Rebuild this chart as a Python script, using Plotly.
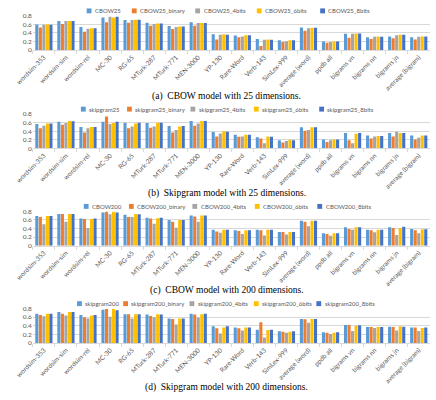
import plotly.graph_objects as go

categories = ["wordsim-353", "wordsim-sim", "wordsim-rel", "MC-30", "RG-65", "MTurk-287",
              "MTurk-771", "MEN-3000", "YP-130", "Rare-Word", "Verb-143", "SimLex-999",
              "average (word)", "ppdb all", "bigrams vn", "bigrams nn", "bigrams jn",
              "average (bigram)"]

# (a) CBOW, 25 dimensions
cbow25 =        [0.60, 0.68, 0.54, 0.76, 0.70, 0.64, 0.56, 0.65, 0.37, 0.34, 0.26, 0.23, 0.53, 0.20, 0.38, 0.30, 0.32, 0.30]
cbow25_binary = [0.53, 0.61, 0.43, 0.65, 0.64, 0.57, 0.49, 0.57, 0.25, 0.30, 0.10, 0.19, 0.45, 0.17, 0.29, 0.26, 0.28, 0.25]
cbow25_4bits =  [0.59, 0.68, 0.50, 0.78, 0.70, 0.61, 0.54, 0.63, 0.36, 0.32, 0.24, 0.21, 0.51, 0.19, 0.38, 0.31, 0.35, 0.31]
cbow25_6bits =  [0.60, 0.68, 0.51, 0.76, 0.71, 0.62, 0.55, 0.63, 0.37, 0.35, 0.25, 0.23, 0.52, 0.20, 0.39, 0.32, 0.36, 0.32]
cbow25_8bits =  [0.59, 0.68, 0.51, 0.78, 0.71, 0.62, 0.55, 0.63, 0.36, 0.35, 0.24, 0.23, 0.52, 0.20, 0.39, 0.31, 0.36, 0.32]

# (b) Skipgram, 25 dimensions
sg25 =        [0.57, 0.62, 0.50, 0.62, 0.60, 0.59, 0.52, 0.64, 0.38, 0.32, 0.26, 0.19, 0.49, 0.21, 0.36, 0.30, 0.36, 0.30]
sg25_binary = [0.47, 0.55, 0.37, 0.74, 0.47, 0.48, 0.37, 0.53, 0.28, 0.27, 0.23, 0.14, 0.41, 0.15, 0.19, 0.23, 0.28, 0.21]
sg25_4bits =  [0.53, 0.59, 0.47, 0.57, 0.51, 0.51, 0.43, 0.58, 0.35, 0.28, 0.12, 0.17, 0.43, 0.19, 0.12, 0.28, 0.39, 0.25]
sg25_6bits =  [0.58, 0.64, 0.50, 0.59, 0.58, 0.60, 0.51, 0.64, 0.40, 0.32, 0.28, 0.20, 0.49, 0.21, 0.34, 0.29, 0.36, 0.30]
sg25_8bits =  [0.58, 0.63, 0.50, 0.62, 0.60, 0.60, 0.52, 0.64, 0.39, 0.32, 0.27, 0.19, 0.49, 0.21, 0.36, 0.29, 0.36, 0.30]

# (c) CBOW, 200 dimensions
cbow200 =        [0.69, 0.74, 0.63, 0.77, 0.72, 0.65, 0.60, 0.70, 0.37, 0.36, 0.37, 0.32, 0.58, 0.29, 0.43, 0.37, 0.43, 0.39]
cbow200_binary = [0.67, 0.74, 0.62, 0.79, 0.67, 0.63, 0.56, 0.68, 0.33, 0.34, 0.36, 0.32, 0.56, 0.27, 0.39, 0.36, 0.41, 0.36]
cbow200_4bits =  [0.50, 0.56, 0.41, 0.73, 0.67, 0.51, 0.42, 0.56, 0.30, 0.27, 0.24, 0.26, 0.45, 0.23, 0.37, 0.31, 0.25, 0.29]
cbow200_6bits =  [0.69, 0.74, 0.62, 0.79, 0.74, 0.64, 0.60, 0.70, 0.37, 0.36, 0.37, 0.32, 0.58, 0.29, 0.43, 0.37, 0.41, 0.38]
cbow200_8bits =  [0.69, 0.74, 0.63, 0.77, 0.73, 0.65, 0.60, 0.70, 0.37, 0.36, 0.37, 0.32, 0.58, 0.29, 0.43, 0.37, 0.44, 0.38]

# (d) Skipgram, 200 dimensions
sg200 =        [0.68, 0.72, 0.65, 0.77, 0.67, 0.66, 0.57, 0.68, 0.39, 0.36, 0.31, 0.27, 0.56, 0.25, 0.42, 0.37, 0.38, 0.36]
sg200_binary = [0.65, 0.68, 0.60, 0.79, 0.67, 0.63, 0.56, 0.66, 0.34, 0.34, 0.48, 0.26, 0.55, 0.24, 0.42, 0.37, 0.37, 0.36]
sg200_4bits =  [0.62, 0.64, 0.57, 0.61, 0.57, 0.60, 0.43, 0.59, 0.22, 0.29, 0.13, 0.24, 0.47, 0.21, 0.28, 0.35, 0.29, 0.28]
sg200_6bits =  [0.68, 0.72, 0.64, 0.79, 0.67, 0.67, 0.57, 0.67, 0.36, 0.36, 0.30, 0.26, 0.56, 0.24, 0.40, 0.37, 0.39, 0.35]
sg200_8bits =  [0.68, 0.72, 0.65, 0.76, 0.67, 0.66, 0.57, 0.68, 0.39, 0.36, 0.31, 0.27, 0.56, 0.25, 0.41, 0.37, 0.38, 0.36]

suffixes = ["", "_binary", "_4bits", "_6bits", "_8bits"]
colors = ["#5B9BD5", "#ED7D31", "#A5A5A5", "#FFC000", "#4472C4"]

panels = [
    ("CBOW25", [cbow25, cbow25_binary, cbow25_4bits, cbow25_6bits, cbow25_8bits],
     "(a)  CBOW model with 25 dimensions."),
    ("skipgram25", [sg25, sg25_binary, sg25_4bits, sg25_6bits, sg25_8bits],
     "(b)  Skipgram model with 25 dimensions."),
    ("CBOW200", [cbow200, cbow200_binary, cbow200_4bits, cbow200_6bits, cbow200_8bits],
     "(c)  CBOW model with 200 dimensions."),
    ("skipgram200", [sg200, sg200_binary, sg200_4bits, sg200_6bits, sg200_8bits],
     "(d)  Skipgram model with 200 dimensions."),
]

H = 400.0
W = 436.0
tops = [12, 112, 211, 310]
plot_h = 35
caption_y = [94, 193, 292, 390]
legend_x = [[75, 122, 188, 252, 318],
            [69, 117, 183, 249, 317],
            [72, 119, 185, 250, 315],
            [65, 113, 182, 249, 314]]
xdom = [16.5 / W, 429.5 / W]
sans = "Lato, Liberation Sans, sans-serif"
tick_font = dict(family=sans, size=6.5, color="#595959")

fig = go.Figure()
layout = dict(
    width=436, height=400,
    margin=dict(l=0, r=0, t=0, b=0),
    paper_bgcolor="white", plot_bgcolor="white",
    barmode="group", bargap=0.2, bargroupgap=0.12,
    showlegend=False,
    annotations=[], shapes=[],
)

for i, (name, series, caption) in enumerate(panels):
    k = "" if i == 0 else str(i + 1)
    xa, ya = "x" + k, "y" + k
    T = tops[i]
    for j, (s, vals, col) in enumerate(zip(suffixes, series, colors)):
        fig.add_trace(go.Bar(x=categories, y=vals, name=name + s, marker_color=col,
                             marker_line_width=0, xaxis=xa, yaxis=ya))
        # legend entry: small square + label
        lx = legend_x[i][j]
        ly = T - 5
        layout["shapes"].append(dict(
            type="rect", xref="paper", yref="paper",
            x0=(lx - 2.5) / W, x1=(lx + 2.5) / W,
            y0=1 - (ly + 2.5) / H, y1=1 - (ly - 2.5) / H,
            fillcolor=col, line=dict(width=0),
        ))
        layout["annotations"].append(dict(
            text=name + s, x=(lx + 4) / W, xref="paper", xanchor="left",
            y=1 - ly / H, yref="paper", yanchor="middle", showarrow=False,
            font=dict(family=sans, size=6, color="#595959"),
        ))
    layout["xaxis" + k] = dict(
        domain=xdom, anchor=ya, type="category",
        tickangle=-45, tickfont=tick_font,
        showgrid=False, showline=True, linecolor="#D9D9D9", linewidth=1,
        ticks="outside", tickson="boundaries", ticklen=3, tickcolor="#D9D9D9",
        fixedrange=True,
    )
    layout["yaxis" + k] = dict(
        domain=[1 - (T + plot_h) / H, 1 - T / H], anchor=xa,
        range=[0, 0.8], tickvals=[0, 0.2, 0.4, 0.6, 0.8],
        ticktext=["0", "0.2", "0.4", "0.6", "0.8"],
        tickfont=tick_font, showgrid=True, gridcolor="#D9D9D9", gridwidth=1,
        zeroline=False, showline=False, ticks="", fixedrange=True,
    )
    layout["annotations"].append(dict(
        text=caption, x=0.5, xref="paper", xanchor="center",
        y=1 - caption_y[i] / H, yref="paper", yanchor="middle",
        showarrow=False,
        font=dict(family="Liberation Serif, Times New Roman, serif", size=9.5, color="black"),
    ))

fig.update_layout(**layout)
fig.write_html("out.html")
